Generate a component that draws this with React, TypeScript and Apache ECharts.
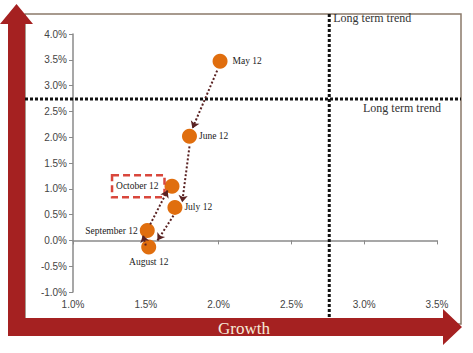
import React, { useEffect, useRef } from "react";
import * as echarts from "echarts";

// Data
const months = ["May 12", "June 12", "July 12", "August 12", "September 12", "October 12"];
const growth = [2.01, 1.8, 1.7, 1.52, 1.51, 1.68]; // % (x)
const inflation = [3.47, 2.02, 0.64, -0.13, 0.19, 1.05]; // % (y)
// dotted arrows between consecutive months (start / end in data space)
const arrowStartX = [1.99, 1.8, 1.69, 1.5, 1.53];
const arrowStartY = [3.29, 1.82, 0.48, -0.1, 0.31];
const arrowEndX = [1.82, 1.75, 1.58, 1.48, 1.65];
const arrowEndY = [2.17, 0.74, 0.0, 0.1, 0.97];
const trendGrowth = 2.76;
const trendInflation = 2.74;
const xMin = 1.0;
const xMax = 3.5;
const yMin = -1.0;
const yMax = 4.0;
const tickStep = 0.5;
const trendLabel = "Long term trend";
const xTitle = "Growth";

export default function App() {
  const ref = useRef<HTMLDivElement>(null);
  useEffect(() => {
    document.body.style.margin = "0";
    const el = ref.current!;
    const chart = echarts.init(el, null, { renderer: "svg" });
    const serif = "'Liberation Serif', 'Times New Roman', serif";
    const sans = "'Liberation Sans', Arial, sans-serif";
    const labelCfg: any[] = [
      { position: "right", distance: 5 },
      { position: "right", distance: 2 },
      { position: "right", distance: 2 },
      { position: "bottom", distance: 2 },
      { position: "left", distance: 2 },
      { position: "left", distance: 0, boxed: true },
    ];
    const points = months.map((m, i) => {
      const c = labelCfg[i];
      return {
        name: m,
        value: [growth[i], inflation[i]],
        label: {
          show: true,
          position: c.position,
          distance: c.distance,
          formatter: m,
          ...(c.boxed
            ? {
                borderColor: "#D9473C",
                borderWidth: 2.5,
                borderType: [7, 4],
                padding: [6, 6, 6, 4],
              }
            : {}),
        },
      };
    });
    const arrows = arrowStartX.map((_, i) => ({
      coords: [
        [arrowStartX[i], arrowStartY[i]],
        [arrowEndX[i], arrowEndY[i]],
      ],
    }));
    const fmt = (v: number) => v.toFixed(1) + "%";
    const axisColor = "#8a8a8a";
    chart.setOption({
      animation: false,
      backgroundColor: "#ffffff",
      grid: { left: 73, right: 36, top: 34, bottom: 61 },
      xAxis: [
        {
          type: "value",
          min: xMin,
          max: xMax,
          interval: tickStep,
          axisLine: { show: true, onZero: true, lineStyle: { color: axisColor, width: 1.5 } },
          axisTick: { show: true, length: 4, lineStyle: { color: axisColor } },
          axisLabel: { show: false },
          splitLine: { show: false },
        },
        {
          type: "value",
          position: "bottom",
          min: xMin,
          max: xMax,
          interval: tickStep,
          axisLine: { show: false, onZero: false },
          axisTick: { show: false },
          splitLine: { show: false },
          axisLabel: { show: true, formatter: fmt, color: "#444", fontFamily: sans, fontSize: 10, margin: 7 },
        },
      ],
      yAxis: {
        type: "value",
        min: yMin,
        max: yMax,
        interval: tickStep,
        axisLine: { show: true, onZero: false, lineStyle: { color: axisColor, width: 1.5 } },
        axisTick: { show: true, length: 4, lineStyle: { color: axisColor } },
        axisLabel: { formatter: fmt, color: "#444", fontFamily: sans, fontSize: 10, margin: 6 },
        splitLine: { show: false },
      },
      series: [
        {
          type: "scatter",
          z: 2,
          symbolSize: 15,
          itemStyle: { color: "#E06E0E", opacity: 1 },
          label: { fontFamily: serif, fontSize: 9.5, color: "#1a1a1a" },
          data: points,
        },
        {
          type: "lines",
          coordinateSystem: "cartesian2d",
          z: 4,
          symbol: ["none", "arrow"],
          symbolSize: 7,
          lineStyle: { color: "#5a2222", width: 2, type: [2, 2], opacity: 1 },
          data: arrows,
        },
      ],
    });

    const [tx, ty] = chart.convertToPixel({ gridIndex: 0 }, [trendGrowth, trendInflation]) as number[];
    const red = "#A52121";
    const dotted = { stroke: "#111", lineWidth: 3, lineDash: [3, 2] };
    chart.setOption({
      graphic: [
        {
          type: "rect",
          z: -10,
          shape: { x: 25, y: 14, width: 436, height: 310 },
          style: { fill: "none", stroke: "#8b7a6a", lineWidth: 1.5 },
        },
        {
          type: "line",
          z: 1,
          shape: { x1: 25, y1: ty, x2: 461, y2: ty },
          style: dotted,
        },
        {
          type: "line",
          z: 1,
          shape: { x1: tx, y1: 14, x2: tx, y2: 318 },
          style: dotted,
        },
        {
          type: "text",
          z: 5,
          x: tx + 4,
          y: 18,
          style: { text: trendLabel, fill: "#333", font: `12px ${serif}`, textVerticalAlign: "middle" },
        },
        {
          type: "text",
          z: 5,
          x: 402,
          y: ty + 9,
          style: { text: trendLabel, fill: "#333", font: `12px ${serif}`, textAlign: "center", textVerticalAlign: "middle" },
        },
        {
          type: "polygon",
          z: 10,
          shape: {
            points: [
              [8, 336],
              [8, 24],
              [0, 24],
              [16.5, 4],
              [33, 24],
              [25, 24],
              [25, 336],
            ],
          },
          style: { fill: red },
        },
        {
          type: "polygon",
          z: 10,
          shape: {
            points: [
              [8, 318],
              [443, 318],
              [443, 309],
              [462, 327],
              [443, 345],
              [443, 336],
              [8, 336],
            ],
          },
          style: { fill: red },
        },
        {
          type: "text",
          z: 11,
          x: 244,
          y: 328,
          style: {
            text: xTitle,
            fill: "#F6ECDA",
            font: `17px ${serif}`,
            textAlign: "center",
            textVerticalAlign: "middle",
          },
        },
      ],
    });
    return () => chart.dispose();
  }, []);
  return <div ref={ref} style={{ position: "absolute", left: 0, top: 0, width: 473, height: 353 }} />;
}
